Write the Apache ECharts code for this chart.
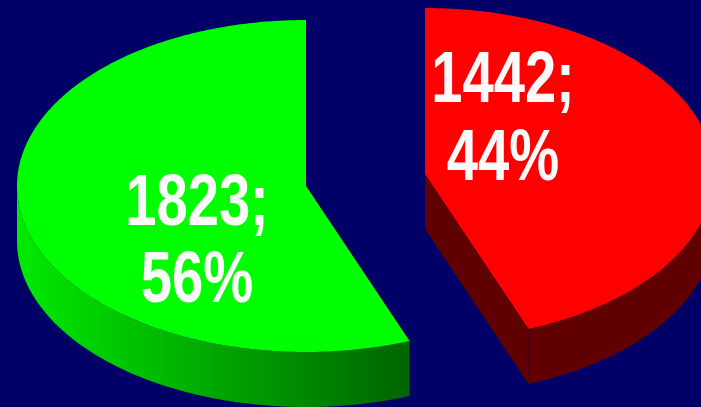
<!DOCTYPE html>
<html>
<head>
<meta charset="utf-8">
<style>html,body{margin:0;padding:0;background:#000066}#c{width:701px;height:407px}</style>
<script src="https://cdn.jsdelivr.net/npm/echarts@6/dist/echarts.min.js"></script>
</head>
<body>
<div id="c"></div>
<script>
// Data, clockwise from twelve o'clock
const sliceValues = [1442, 1823];
const topColors = ['#ff0000', '#00ff00'];

// Drawing styles and projection
const sideFills = [
  '#600000',
  {type: 'linear', x: 0, y: 0, x2: 1, y2: 0, colorStops: [
    {offset: 0, color: '#00ea00'},
    {offset: 1, color: '#006400'}
  ]}
];
const centers = [[425, 174], [306, 186]];
const labelCenters = [[503, 82, 160], [197, 205, 282]];
const radiusX = 289, radiusY = 166, depth = 55;
const textScaleX = 0.78;

const total = sliceValues.reduce((a, b) => a + b, 0);
const deg = v => v / total * Math.PI * 2;

function rim(cx, cy, t) {
  return [cx + radiusX * Math.sin(t), cy - radiusY * Math.cos(t)];
}
function arcPoints(cx, cy, from, to, dy) {
  const n = Math.max(2, Math.ceil(Math.abs(to - from) / 0.01));
  const out = [];
  for (let i = 0; i <= n; i++) {
    const p = rim(cx, cy, from + (to - from) * i / n);
    out.push([p[0], p[1] + dy]);
  }
  return out;
}

function renderItem(params, api) {
  const i = params.dataIndex;
  const value = api.value(0);
  let start = 0;
  for (let k = 0; k < i; k++) start += deg(sliceValues[k]);
  const end = start + deg(value);
  const [cx, cy] = centers[i];
  const children = [];

  // Outer wall: only the part of the rim facing the viewer
  const a = Math.max(start, Math.PI / 2), b = Math.min(end, Math.PI * 1.5);
  if (b > a) {
    const upper = arcPoints(cx, cy, a, b, 0);
    const lower = arcPoints(cx, cy, a, b, depth).reverse();
    children.push({type: 'polygon', shape: {points: upper.concat(lower)},
      style: {fill: sideFills[i], stroke: null}});
  }
  // Cut wall on the trailing edge when it faces the viewer
  if (end < Math.PI) {
    const p = rim(cx, cy, end);
    children.push({type: 'polygon',
      shape: {points: [[cx, cy], p, [p[0], p[1] + depth], [cx, cy + depth]]},
      style: {fill: sideFills[i], stroke: null}});
  }
  // Top face
  children.push({type: 'polygon',
    shape: {points: [[cx, cy]].concat(arcPoints(cx, cy, start, end, 0))},
    style: {fill: topColors[i], stroke: null}});

  // Labels: value; then percentage
  const [lx, ly1, ly2] = labelCenters[i];
  const lines = [value + ';', Math.round(value / total * 100) + '%'];
  [ly1, ly2].forEach((ly, n) => {
    children.push({type: 'text', x: lx, y: ly, scaleX: textScaleX, scaleY: 1,
      style: {text: lines[n], fill: '#fafafa', align: 'center', verticalAlign: 'middle',
        font: 'bold 72px "Liberation Sans", Arial, sans-serif'}});
  });
  return {type: 'group', children};
}

const chart = echarts.init(document.getElementById('c'), null, {renderer: 'canvas'});
chart.setOption({
  backgroundColor: '#000066',
  animation: false,
  tooltip: {show: false},
  series: [{
    type: 'custom',
    coordinateSystem: 'none',
    silent: true,
    clip: false,
    data: sliceValues.map(v => [v]),
    renderItem
  }]
});
</script>
</body>
</html>
